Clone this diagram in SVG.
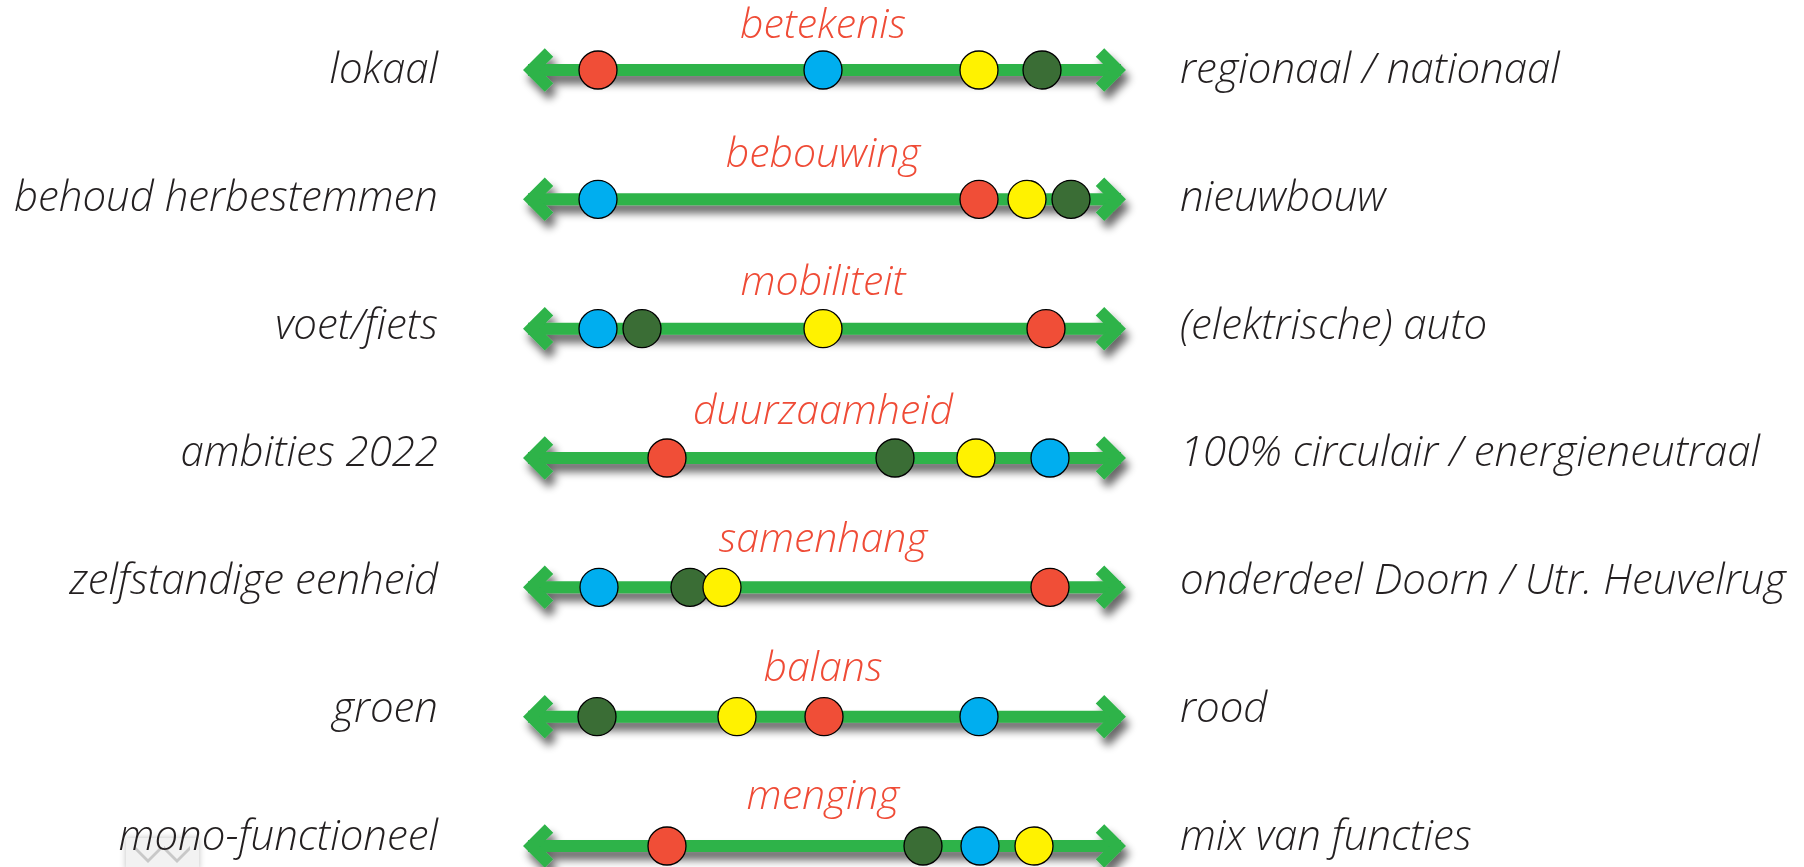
<svg xmlns="http://www.w3.org/2000/svg" width="1804" height="867" viewBox="0 0 1804 867">
<defs>
<filter id="sh" x="-10%" y="-100%" width="120%" height="400%">
<feGaussianBlur in="SourceAlpha" stdDeviation="4"/>
<feOffset dx="4" dy="8" result="b"/>
<feComponentTransfer><feFuncA type="linear" slope="0.6"/></feComponentTransfer>
<feMerge><feMergeNode/><feMergeNode in="SourceGraphic"/></feMerge>
</filter>
<filter id="bs" x="-20%" y="-50%" width="140%" height="200%">
<feDropShadow dx="0" dy="0" stdDeviation="3" flood-color="#000" flood-opacity="0.25"/>
</filter>
<g id="axis">
<line x1="528" y1="0" x2="1121" y2="0" stroke="#2db34a" stroke-width="12"/>
<polyline points="549,-17.5 531.5,0 549,17.5" fill="none" stroke="#2db34a" stroke-width="12" stroke-linejoin="miter"/>
<polyline points="1100,-17.5 1117.5,0 1100,17.5" fill="none" stroke="#2db34a" stroke-width="12" stroke-linejoin="miter"/>
</g>
</defs>
<style>
.lab{font-family:"Open Sans","Liberation Sans",sans-serif;font-style:italic;font-weight:300;font-size:42px;fill:#231f20}
.l{text-anchor:end}
.t{font-family:"Open Sans","Liberation Sans",sans-serif;font-style:italic;font-weight:300;font-size:41px;fill:#ef4b36;text-anchor:middle}
.dot{stroke:#000;stroke-width:1.3}
.r{fill:#f04e37}.b{fill:#00aeef}.y{fill:#fff200}.g{fill:#3a6d35}
</style>
<rect x="126" y="838" width="73" height="32" fill="#f2f2f2" filter="url(#bs)"/>
<polygon points="135,846 148,859 161,846 161,850 148,863 135,850" fill="#c8c8c8"/>
<polygon points="164,846 177,859 190,846 190,850 177,863 164,850" fill="#c8c8c8"/>
<g id="connectors" filter="url(#sh)">
<use href="#axis" y="70"/>
<use href="#axis" y="199.3"/>
<use href="#axis" y="328.7"/>
<use href="#axis" y="458"/>
<use href="#axis" y="587.3"/>
<use href="#axis" y="716.7"/>
<use href="#axis" y="846"/>
</g>
<g id="row1">
<text class="t" x="823" y="38.3">betekenis</text>
<text class="lab l" x="438" y="82.7">lokaal</text>
<text class="lab" x="1180" y="82.7">regionaal / nationaal</text>
<circle class="dot r" cx="598" cy="70" r="19"/>
<circle class="dot b" cx="823" cy="70" r="19"/>
<circle class="dot y" cx="979" cy="70" r="19"/>
<circle class="dot g" cx="1042" cy="70" r="19"/>
</g>
<g id="row2">
<text class="t" x="823" y="166.8">bebouwing</text>
<text class="lab l" x="438" y="210.6">behoud herbestemmen</text>
<text class="lab" x="1180" y="210.6">nieuwbouw</text>
<circle class="dot b" cx="598" cy="199.3" r="19"/>
<circle class="dot r" cx="979" cy="199.3" r="19"/>
<circle class="dot y" cx="1027" cy="199.3" r="19"/>
<circle class="dot g" cx="1071" cy="199.3" r="19"/>
</g>
<g id="row3">
<text class="t" x="823" y="295.3">mobiliteit</text>
<text class="lab l" x="438" y="338.5">voet/fiets</text>
<text class="lab" x="1180" y="338.5">(elektrische) auto</text>
<circle class="dot b" cx="598" cy="328.7" r="19"/>
<circle class="dot g" cx="642" cy="328.7" r="19"/>
<circle class="dot y" cx="823" cy="328.7" r="19"/>
<circle class="dot r" cx="1046" cy="328.7" r="19"/>
</g>
<g id="row4">
<text class="t" x="823" y="423.8">duurzaamheid</text>
<text class="lab l" x="438" y="466.3">ambities 2022</text>
<text class="lab" x="1180" y="466.3">100% circulair / energieneutraal</text>
<circle class="dot r" cx="667" cy="458" r="19"/>
<circle class="dot g" cx="895" cy="458" r="19"/>
<circle class="dot y" cx="976" cy="458" r="19"/>
<circle class="dot b" cx="1050" cy="458" r="19"/>
</g>
<g id="row5">
<text class="t" x="823" y="552.3">samenhang</text>
<text class="lab l" x="438" y="594.2">zelfstandige eenheid</text>
<text class="lab" x="1180" y="594.2">onderdeel Doorn / Utr. Heuvelrug</text>
<circle class="dot b" cx="599" cy="587.3" r="19"/>
<circle class="dot g" cx="690" cy="587.3" r="19"/>
<circle class="dot y" cx="722" cy="587.3" r="19"/>
<circle class="dot r" cx="1050" cy="587.3" r="19"/>
</g>
<g id="row6">
<text class="t" x="823" y="680.8">balans</text>
<text class="lab l" x="438" y="722.1">groen</text>
<text class="lab" x="1180" y="722.1">rood</text>
<circle class="dot g" cx="597" cy="716.7" r="19"/>
<circle class="dot y" cx="737" cy="716.7" r="19"/>
<circle class="dot r" cx="824" cy="716.7" r="19"/>
<circle class="dot b" cx="979" cy="716.7" r="19"/>
</g>
<g id="row7">
<text class="t" x="823" y="809.3">menging</text>
<text class="lab l" x="438" y="850">mono-functioneel</text>
<text class="lab" x="1180" y="850">mix van functies</text>
<circle class="dot r" cx="667" cy="846" r="19"/>
<circle class="dot g" cx="923" cy="846" r="19"/>
<circle class="dot b" cx="980" cy="846" r="19"/>
<circle class="dot y" cx="1034" cy="846" r="19"/>
</g>
</svg>
